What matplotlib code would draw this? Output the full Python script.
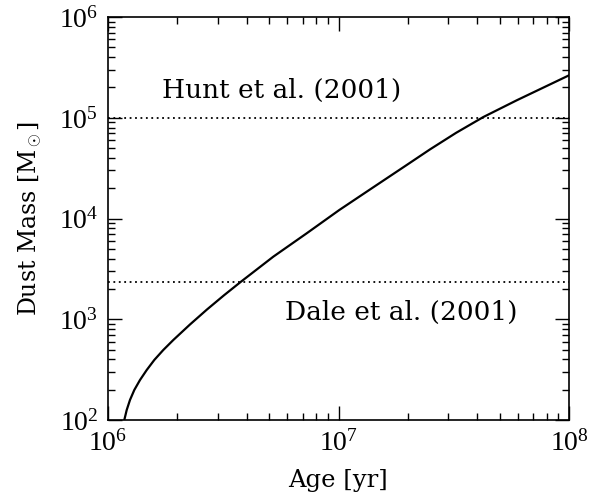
import matplotlib
matplotlib.use("Agg")
import matplotlib.pyplot as plt
import numpy as np
from matplotlib.ticker import LogLocator, NullFormatter

# data (log10 age [yr], log10 dust mass [Msun])
log_age = [6.052, 6.0707, 6.0811, 6.0954, 6.1141, 6.1388, 6.1679, 6.2009, 6.2399,
           6.2833, 6.3557, 6.4295, 6.5033, 6.5770, 6.7171, 6.8620, 7.0033,
           7.1510, 7.2959, 7.3970, 7.5100, 7.6282, 7.7731, 8.0000]
log_mass = [1.820, 2.000, 2.099, 2.199, 2.298, 2.397, 2.496, 2.596, 2.695,
            2.794, 2.948, 3.097, 3.238, 3.373, 3.621, 3.853, 4.084,
            4.310, 4.531, 4.686, 4.850, 5.007, 5.173, 5.421]
hunt_mass = 1.0e5
dale_mass = 2.34e3
labels = ["Hunt et al. (2001)", "Dale et al. (2001)"]
xticks = [1e6, 1e7, 1e8]
xticklabels = [r'$10^6$', r'$10^7$', r'$10^8$']
yticks = [1e2, 1e3, 1e4, 1e5, 1e6]
yticklabels = [r'$10^2$', r'$10^3$', r'$10^4$', r'$10^5$', r'$10^6$']

age = 10 ** np.array(log_age)
mass = 10 ** np.array(log_mass)

plt.rcParams['font.family'] = 'DejaVu Serif'
plt.rcParams['mathtext.fontset'] = 'custom'
plt.rcParams['mathtext.rm'] = 'Liberation Serif'
plt.rcParams['mathtext.it'] = 'Liberation Serif'
plt.rcParams['mathtext.bf'] = 'Liberation Serif'

fig = plt.figure(figsize=(6.08, 4.96), dpi=100)
ax = fig.add_axes([108/608, 1 - 420/496, (569-108)/608, (420-17)/496])

ax.plot(age, mass, color='black', lw=1.6)
ax.axhline(hunt_mass, color='black', lw=1.3, ls=(0, (1, 2)))
ax.axhline(dale_mass, color='black', lw=1.3, ls=(0, (1, 2)))

ax.set_xscale('log')
ax.set_yscale('log')
ax.set_xlim(1e6, 1e8)
ax.set_ylim(1e2, 1e6)

ax.text(5.68e6, 1.86e5, labels[0], fontsize=19, ha='center', va='center')
ax.text(1.87e7, 1.18e3, labels[1], fontsize=19, ha='center', va='center')

ax.set_xticks(xticks)
ax.set_xticklabels(xticklabels)
ax.set_yticks(yticks)
ax.set_yticklabels(yticklabels)
ax.xaxis.set_minor_locator(LogLocator(base=10, subs=np.arange(2, 10)))
ax.yaxis.set_minor_locator(LogLocator(base=10, subs=np.arange(2, 10)))
ax.xaxis.set_minor_formatter(NullFormatter())
ax.yaxis.set_minor_formatter(NullFormatter())

ax.tick_params(which='both', direction='in', top=True, right=True, width=1)
ax.tick_params(which='major', length=10, labelsize=20, pad=7)
ax.tick_params(which='minor', length=5)
for s in ax.spines.values():
    s.set_linewidth(1.2)

ax.set_xlabel('Age [yr]', fontsize=17.5, labelpad=9)
ax.set_ylabel(r'Dust Mass [M$_\odot$]', fontsize=17, labelpad=11)

fig.savefig('out.png', dpi=100)
